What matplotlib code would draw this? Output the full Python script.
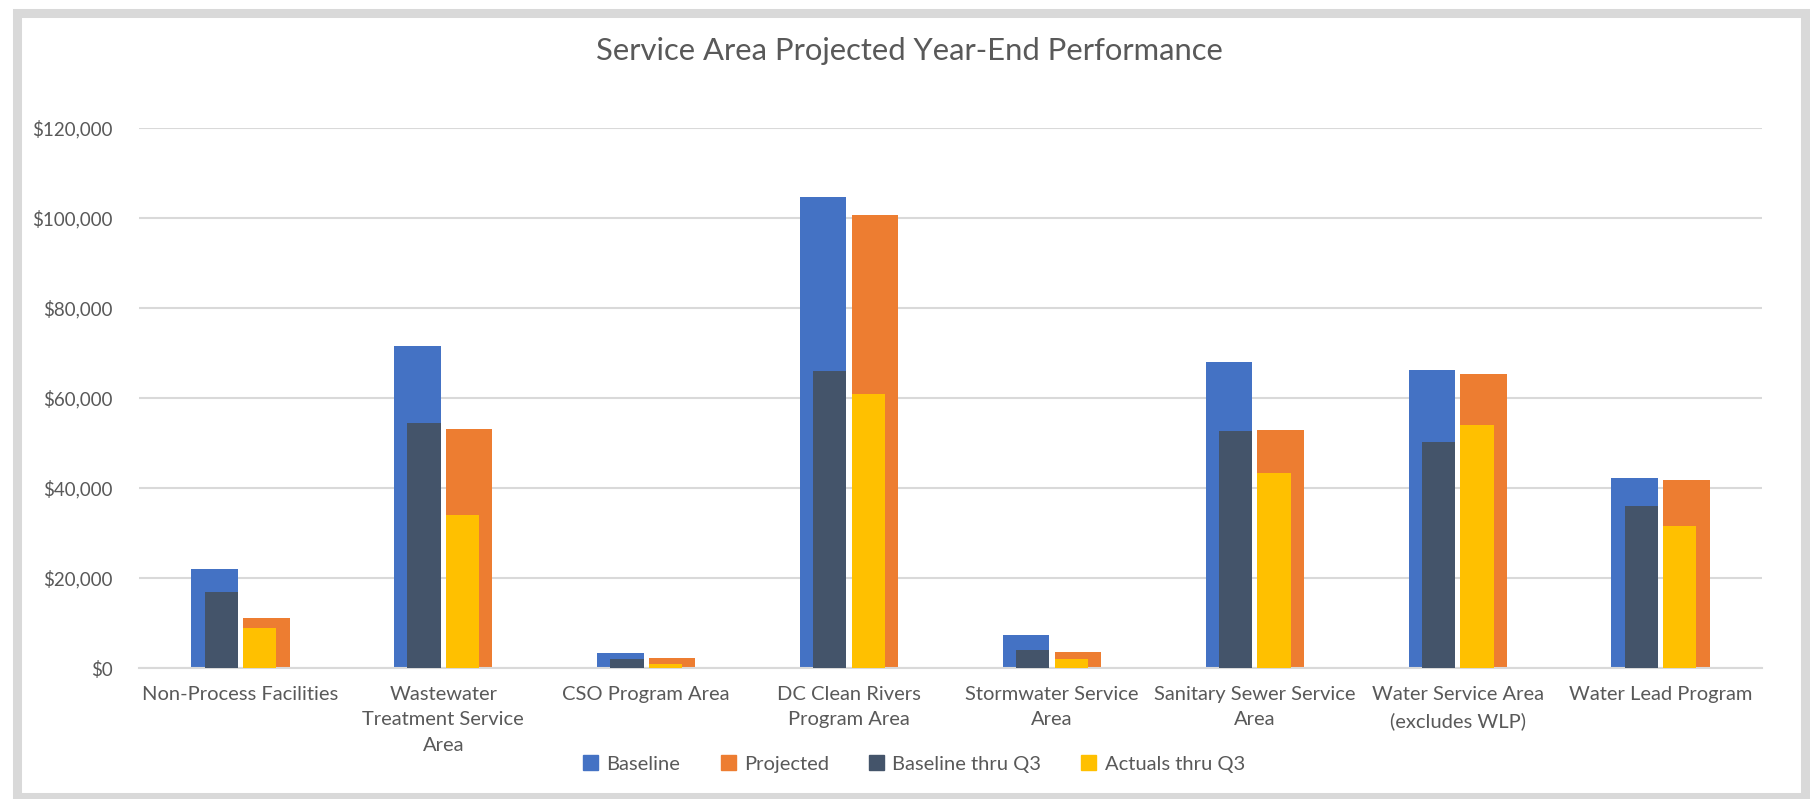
import numpy as np
import matplotlib
matplotlib.use('Agg')
import matplotlib.pyplot as plt
from matplotlib.patches import Rectangle, Patch
from matplotlib.ticker import FuncFormatter

plt.rcParams['font.family'] = ['Lato', 'DejaVu Sans']

# data
categories = ['Non-Process Facilities',
              'Wastewater\nTreatment Service\nArea',
              'CSO Program Area',
              'DC Clean Rivers\nProgram Area',
              'Stormwater Service\nArea',
              'Sanitary Sewer Service\nArea',
              'Water Service Area\n(excludes WLP)',
              'Water Lead Program']
baseline = [22000, 71600, 3300, 104600, 7400, 67900, 66300, 42300]
projected = [11200, 53100, 2300, 100700, 3500, 52900, 65400, 41700]
baseline_q3 = [17000, 54400, 2000, 65900, 3900, 52700, 50300, 36000]
actuals_q3 = [9000, 34000, 800, 60900, 2100, 43300, 53900, 31500]

c_base = '#4472C4'
c_proj = '#ED7D31'
c_bq3 = '#44546A'
c_aq3 = '#FFC000'
txt = '#595959'
grid = '#D9D9D9'

W, H = 1810, 799
fig = plt.figure(figsize=(W / 100, H / 100), dpi=100)
ax = fig.add_axes([139 / W, (H - 668) / H, (1762 - 139) / W, (668 - 128) / H])

x = np.arange(len(categories))
wide, narrow, gap = 0.229, 0.164, 0.013

ax.bar(x - gap, baseline, width=-wide, align='edge', color=c_base, zorder=2)
ax.bar(x + gap, projected, width=wide, align='edge', color=c_proj, zorder=2)
ax.bar(x - gap, baseline_q3, width=-narrow, align='edge', color=c_bq3, zorder=3)
ax.bar(x + gap, actuals_q3, width=narrow, align='edge', color=c_aq3, zorder=3)

ax.set_xlim(-0.5, len(categories) - 0.5)
ax.set_ylim(0, 120000)
ax.set_yticks(np.arange(0, 120001, 20000))
ax.yaxis.set_major_formatter(FuncFormatter(lambda v, p: '${:,.0f}'.format(v)))
ax.set_xticks(x)
ax.set_xticklabels(categories, linespacing=1.6)
ax.tick_params(axis='both', length=0, colors=txt)
ax.tick_params(axis='x', labelsize=14.5, pad=13)
ax.tick_params(axis='y', labelsize=13.5, pad=19)
for lab in ax.get_xticklabels():
    lab.set_verticalalignment('top')

ax.grid(axis='y', color=grid, linewidth=1.5, zorder=0)
ax.set_axisbelow(True)
for s in ['top', 'right', 'left']:
    ax.spines[s].set_visible(False)
ax.spines['bottom'].set_color(grid)
ax.spines['bottom'].set_linewidth(1.5)

fig.text(909 / W, 1 - 51 / H, 'Service Area Projected Year-End Performance',
         ha='center', va='center', fontsize=22.3, color=txt)

handles = [Patch(color=c_base), Patch(color=c_proj), Patch(color=c_bq3), Patch(color=c_aq3)]
fig.legend(handles, ['Baseline', 'Projected', 'Baseline thru Q3', 'Actuals thru Q3'],
           loc='center', bbox_to_anchor=(914 / W, 1 - 764 / H), ncol=4, frameon=False,
           fontsize=14.5, labelcolor=txt, handlelength=0.75, handleheight=0.75,
           handletextpad=0.4, columnspacing=2.0)

# gray chart border
fig.add_artist(Rectangle((16.5 / W, 2 / H), (1805 - 16.5) / W, (786.5 - 2) / H,
                         transform=fig.transFigure, fill=False,
                         edgecolor=grid, linewidth=6.5))

fig.savefig('out.png', dpi=100, facecolor='white')
